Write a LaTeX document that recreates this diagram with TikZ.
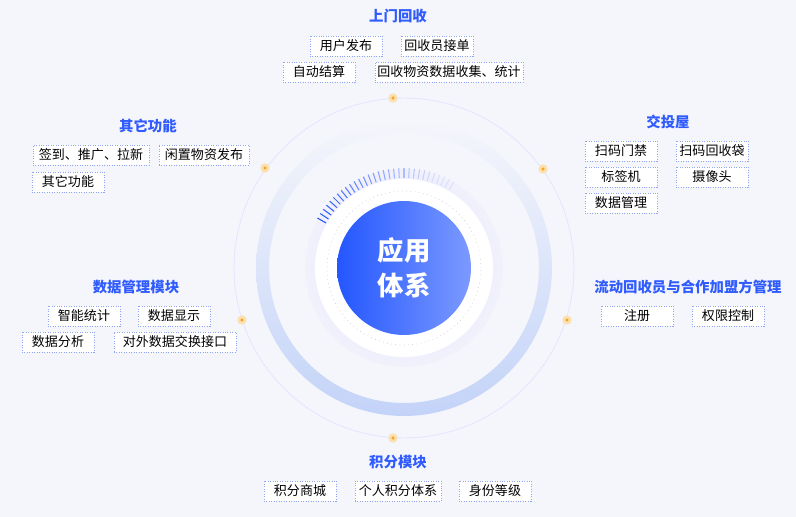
\documentclass[tikz,border=0pt]{standalone}
\usepackage{fontspec}
\setmainfont{Noto Sans CJK SC}
\usetikzlibrary{calc}
\definecolor{bgcol}{HTML}{F5F6FB}
\definecolor{titleblue}{HTML}{2F5BFF}
\definecolor{boxline}{HTML}{8FA6F5}
\definecolor{ringblue}{HTML}{C3D3F8}
\definecolor{coreblue}{HTML}{2456FF}
\definecolor{dotorange}{HTML}{F6A623}
\tikzset{
  title/.style={text=titleblue,font=\bfseries\fontsize{8.2}{10}\selectfont},
  tagbox/.style={draw=boxline,densely dotted,fill=white,minimum height=11.5pt,inner sep=1pt,
    minimum width=#1*0.02cm,font=\fontsize{7.4}{9}\selectfont},
  tagbox/.default=72,
  orbitdot/.style={circle,fill=dotorange,inner sep=0pt,minimum size=3.6pt,
    draw=dotorange!35,line width=1.6pt}
}
\begin{document}
\begin{tikzpicture}[x=0.02cm,y=-0.02cm]
  \fill[bgcol] (0,0) rectangle (796,517);
  \useasboundingbox (0,0) rectangle (796,517);
  % rings
  \coordinate (c) at (404,268);
  \draw[blue!10,line width=0.5pt] (c) circle (3.4cm);
  \shade[top color=bgcol,bottom color=ringblue,even odd rule] (c) circle (2.96cm) (c) circle (2.7cm);
  \fill[blue!8,opacity=0.4] (c) circle (1.98cm);
  \fill[blue!6,opacity=0.5] (c) circle (1.88cm);
  \fill[white] (c) circle (1.78cm);
  \draw[gray!40,dotted] (c) circle (1.54cm);
  \shade[left color=coreblue,right color=coreblue!60!white] (c) circle (1.34cm);
  \node[text=white,align=center,font=\bfseries\fontsize{15}{20}\selectfont] (core) at (c) {应用\\体系};
  % ticks
  \foreach \a in {60,63,...,150}
    \draw[coreblue,line width=0.6pt,opacity={max(0.1,(\a-60)/90)}]
      ($(c)+(\a:1.8cm)$) -- ($(c)+(\a:2cm)$);
  % dots
  \foreach \p/\n in {{393,98}/d1,{543,169}/d2,{567,320}/d3,{393,438}/d4,{242,320}/d5,{265,168}/d6}
    \node[orbitdot] (\n) at (\p) {};
  % groups
  \node[title] (t1) at (398,16) {上门回收};
  \node[tagbox] (b11) at (346,46) {用户发布};
  \node[tagbox] (b12) at (437,46) {回收员接单};
  \node[tagbox] (b13) at (319,72) {自动结算};
  \node[tagbox=148] (b14) at (449,72) {回收物资数据收集、统计};

  \node[title] (t2) at (668,122) {交投屋};
  \node[tagbox] (b21) at (621,151) {扫码门禁};
  \node[tagbox] (b22) at (712,151) {扫码回收袋};
  \node[tagbox] (b23) at (621,177) {标签机};
  \node[tagbox] (b24) at (712,177) {摄像头};
  \node[tagbox] (b25) at (621,203) {数据管理};

  \node[title] (t3) at (148,126) {其它功能};
  \node[tagbox=116] (b31) at (91,155) {签到、推广、拉新};
  \node[tagbox=90] (b32) at (204,155) {闲置物资发布};
  \node[tagbox] (b33) at (68,182) {其它功能};

  \node[title] (t4) at (136,287) {数据管理模块};
  \node[tagbox] (b41) at (84,316) {智能统计};
  \node[tagbox] (b42) at (174,316) {数据显示};
  \node[tagbox] (b43) at (58,342) {数据分析};
  \node[tagbox=122] (b44) at (175,342) {对外数据交换接口};

  \node[title] (t5) at (688,287) {流动回收员与合作加盟方管理};
  \node[tagbox] (b51) at (637,316) {注册};
  \node[tagbox] (b52) at (728,316) {权限控制};

  \node[title] (t6) at (398,462) {积分模块};
  \node[tagbox] (b61) at (300,491) {积分商城};
  \node[tagbox=86] (b62) at (398,491) {个人积分体系};
  \node[tagbox] (b63) at (495,491) {身份等级};
\end{tikzpicture}
\end{document}
